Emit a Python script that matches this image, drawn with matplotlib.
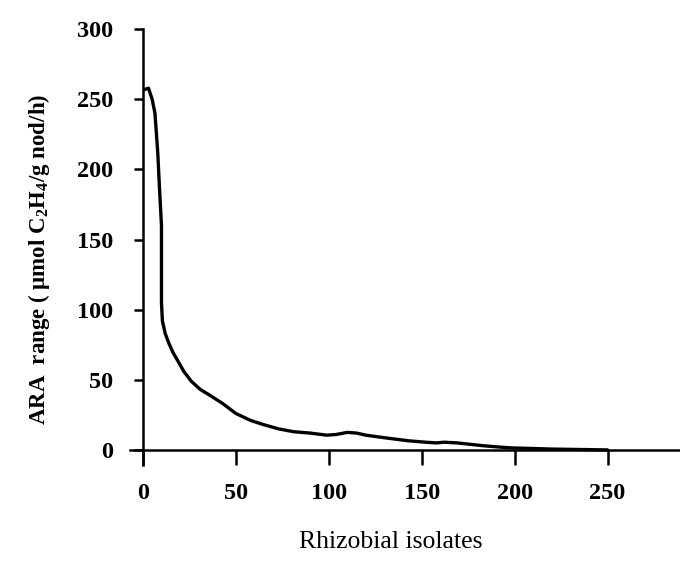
import matplotlib
matplotlib.use('Agg')
import matplotlib.pyplot as plt

# ranked ARA values
isolates = [1, 3, 5, 6.5, 8, 9, 10, 10, 10, 10.5, 12, 14, 16, 19, 22, 26, 31, 36,
            43, 50, 58, 65, 73, 81, 90, 99, 104, 110, 115, 120, 131, 143, 152,
            158, 162, 169, 183, 192, 199, 210, 220, 235, 250]
ara = [257, 258, 250, 240, 212, 185, 160, 130, 105, 92, 83, 76, 70, 63, 56, 49,
       43, 39, 33, 26, 21, 18, 15, 13, 12, 10.5, 11, 12.5, 12, 10.5, 8.5, 6.5,
       5.5, 5, 5.5, 5, 3, 2, 1.4, 1, 0.6, 0.3, 0]

xticks = [0, 50, 100, 150, 200, 250]
yticks = [0, 50, 100, 150, 200, 250, 300]

plt.rcParams['font.family'] = 'Liberation Serif'
plt.rcParams['mathtext.fontset'] = 'custom'
plt.rcParams['mathtext.rm'] = 'Liberation Serif:bold'
plt.rcParams['mathtext.it'] = 'Liberation Serif:bold'

fig = plt.figure(figsize=(6.8, 5.62), dpi=100)
ax = fig.add_axes([0.191, 0.172, 0.809, 0.776])

ax.plot(isolates, ara, color='black', lw=2.4, solid_capstyle='round')

ax.set_xlim(-7, 289)
ax.set_ylim(-11, 300)
ax.spines['top'].set_visible(False)
ax.spines['right'].set_visible(False)
ax.spines['left'].set_position(('data', 0))
ax.spines['bottom'].set_position(('data', 0))
ax.spines['left'].set_linewidth(1.8)
ax.spines['bottom'].set_linewidth(1.8)

ax.set_xticks(xticks)
ax.set_yticks(yticks)
ax.tick_params(axis='x', direction='out', length=11, width=1.8, pad=13, labelsize=17.5)
ax.tick_params(axis='y', direction='out', length=6.5, width=1.8, pad=15, labelsize=17.5)
for lab in ax.get_xticklabels() + ax.get_yticklabels():
    lab.set_fontweight('bold')

fig.text(0.575, 0.035, 'Rhizobial isolates', ha='center', va='center', fontsize=18.5)
fig.text(0.057, 0.539, r'ARA  range ( $\mu$mol C$_2$H$_4$/g nod/h)', rotation=90,
         ha='center', va='center', fontsize=16.5, fontweight='bold')

fig.savefig('out.png', dpi=100)
